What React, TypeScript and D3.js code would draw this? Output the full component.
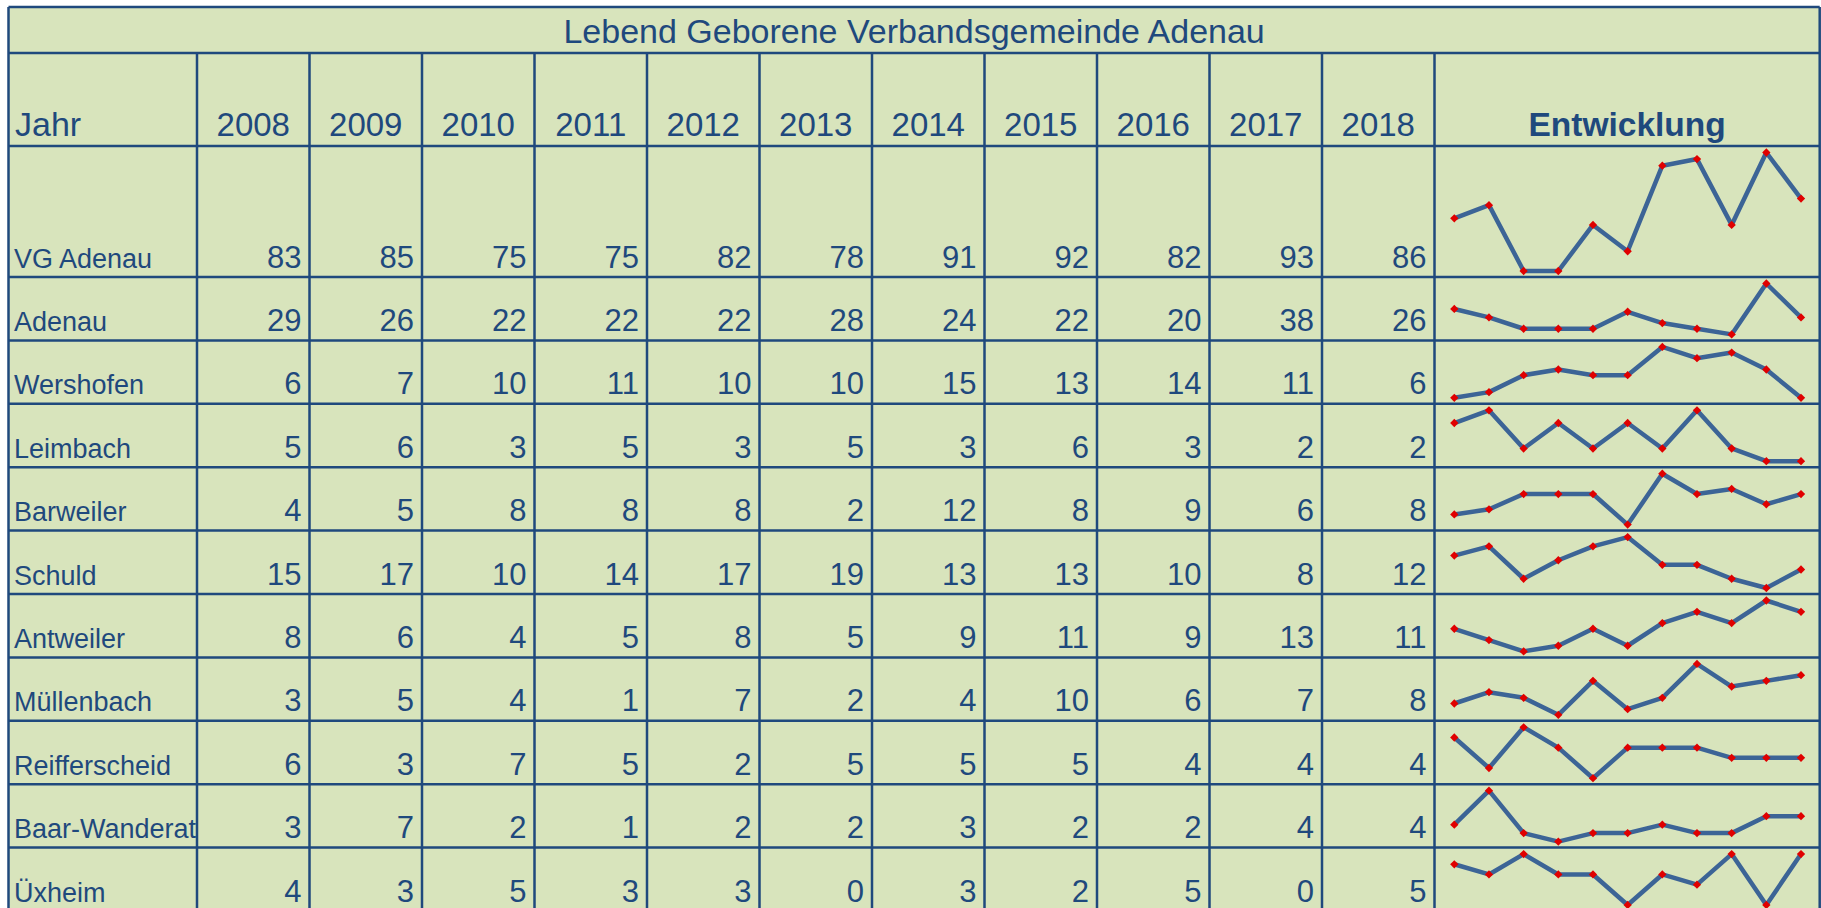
import React from "react";
import * as d3 from "d3";

const title = "Lebend Geborene Verbandsgemeinde Adenau";
const headerLabel = "Jahr";
const sparkHeader = "Entwicklung";
const years = ["2008", "2009", "2010", "2011", "2012", "2013", "2014", "2015", "2016", "2017", "2018"];
const places = [
  "VG Adenau",
  "Adenau",
  "Wershofen",
  "Leimbach",
  "Barweiler",
  "Schuld",
  "Antweiler",
  "Müllenbach",
  "Reifferscheid",
  "Baar-Wanderath",
  "Üxheim",
];
const vgAdenau = [83, 85, 75, 75, 82, 78, 91, 92, 82, 93, 86];
const adenau = [29, 26, 22, 22, 22, 28, 24, 22, 20, 38, 26];
const wershofen = [6, 7, 10, 11, 10, 10, 15, 13, 14, 11, 6];
const leimbach = [5, 6, 3, 5, 3, 5, 3, 6, 3, 2, 2];
const barweiler = [4, 5, 8, 8, 8, 2, 12, 8, 9, 6, 8];
const schuld = [15, 17, 10, 14, 17, 19, 13, 13, 10, 8, 12];
const antweiler = [8, 6, 4, 5, 8, 5, 9, 11, 9, 13, 11];
const muellenbach = [3, 5, 4, 1, 7, 2, 4, 10, 6, 7, 8];
const reifferscheid = [6, 3, 7, 5, 2, 5, 5, 5, 4, 4, 4];
const baarWanderath = [3, 7, 2, 1, 2, 2, 3, 2, 2, 4, 4];
const uexheim = [4, 3, 5, 3, 3, 0, 3, 2, 5, 0, 5];

const seriesList = [
  vgAdenau,
  adenau,
  wershofen,
  leimbach,
  barweiler,
  schuld,
  antweiler,
  muellenbach,
  reifferscheid,
  baarWanderath,
  uexheim,
];

const W = 1821;
const H = 908;
const BG = "#d8e4bc";
const INK = "#1f497d";
const LINE = "#3c6496";
const MARK = "#e00000";
const FONT = "'Liberation Sans', Arial, Helvetica, sans-serif";

export default function App() {
  const left = 8.5;
  const right = 1819.7;
  const top = 7;
  const titleBottom = 53;
  const headerBottom = 146;
  const firstRowBottom = 277;
  const rowH = 63.4;

  const colX = d3.scaleLinear().domain([0, years.length]).range([197, 1434.5]);
  const sparkX = d3.scalePoint<string>().domain(years).range([1454.3, 1801]);

  const rowTop = (i: number) => (i === 0 ? headerBottom : firstRowBottom + (i - 1) * rowH);
  const rowBottom = (i: number) => (i === 0 ? firstRowBottom : firstRowBottom + i * rowH);
  const tableBottom = rowBottom(places.length - 1);

  const diamond = d3.symbol().type(d3.symbolDiamond2).size(44)() as string;

  const hLines = [top, titleBottom, headerBottom, ...places.map((_, i) => rowBottom(i))];
  const vCols = d3.range(years.length + 1).map((i) => colX(i));

  return (
    <svg
      width={W}
      height={H}
      style={{ position: "absolute", left: 0, top: 0, display: "block" }}
      fontFamily={FONT}
    >
      <defs>
        <clipPath id="labelClip">
          <rect x={0} y={0} width={colX(0) - 1} height={H} />
        </clipPath>
      </defs>
      <rect x={0} y={0} width={W} height={H} fill="#ffffff" />
      <rect x={left} y={top} width={right - left} height={tableBottom - top} fill={BG} />

      {/* title */}
      <text x={(left + right) / 2} y={42.5} textAnchor="middle" fontSize={34} fill={INK}>
        {title}
      </text>

      {/* header */}
      <text x={15} y={136} fontSize={34} fill={INK}>
        {headerLabel}
      </text>
      {years.map((y, i) => (
        <text
          key={y}
          x={(colX(i) + colX(i + 1)) / 2}
          y={136}
          textAnchor="middle"
          fontSize={33}
          fill={INK}
        >
          {y}
        </text>
      ))}
      <text
        x={(colX(years.length) + right) / 2}
        y={136}
        textAnchor="middle"
        fontSize={33.5}
        fontWeight="bold"
        fill={INK}
      >
        {sparkHeader}
      </text>

      {/* rows */}
      {places.map((p, r) => {
        const base = rowBottom(r) - 9.5;
        return (
          <g key={p}>
            <text x={14} y={base} fontSize={27} fill={INK} clipPath="url(#labelClip)">
              {p}
            </text>
            {seriesList[r].map((v, i) => (
              <text key={i} x={colX(i + 1) - 8} y={base} textAnchor="end" fontSize={31} fill={INK}>
                {v}
              </text>
            ))}
          </g>
        );
      })}

      {/* grid */}
      {hLines.map((y, i) => (
        <line key={"h" + i} x1={left} x2={right} y1={y} y2={y} stroke={INK} strokeWidth={2.5} />
      ))}
      <line x1={left} x2={left} y1={top} y2={tableBottom} stroke={INK} strokeWidth={2.5} />
      <line x1={right} x2={right} y1={top} y2={tableBottom} stroke={INK} strokeWidth={2.5} />
      {vCols.map((x, i) => (
        <line key={"v" + i} x1={x} x2={x} y1={titleBottom} y2={tableBottom} stroke={INK} strokeWidth={2.5} />
      ))}

      {/* sparklines */}
      {places.map((p, r) => {
        const vals = seriesList[r];
        const ext = d3.extent(vals) as [number, number];
        const y = d3.scaleLinear().domain(ext).range([rowBottom(r) - 6, rowTop(r) + 6.5]);
        const line = d3
          .line<number>()
          .x((_, i) => sparkX(years[i]) as number)
          .y((v) => y(v));
        return (
          <g key={"s" + p}>
            <path d={line(vals) as string} fill="none" stroke={LINE} strokeWidth={4.5} strokeLinejoin="round" />
            {vals.map((v, i) => (
              <path
                key={i}
                d={diamond}
                transform={`translate(${sparkX(years[i])},${y(v)})`}
                fill={MARK}
              />
            ))}
          </g>
        );
      })}
    </svg>
  );
}
